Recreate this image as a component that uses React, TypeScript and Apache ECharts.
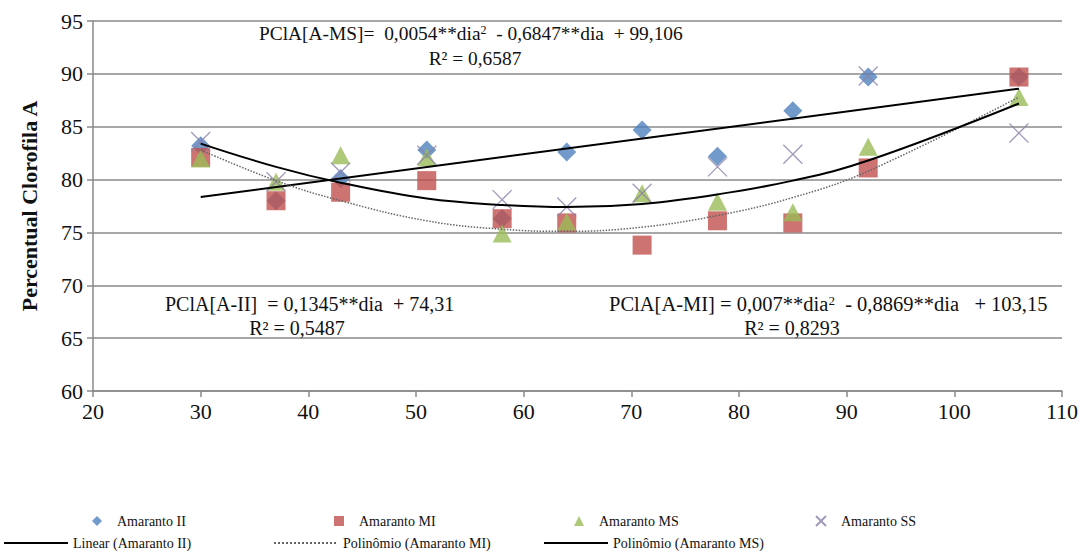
import React, { useEffect, useRef } from "react";
import * as echarts from "echarts";

// Days after sowing (x)
const days = [30, 37, 43, 51, 58, 64, 71, 78, 85, 92, 106];
const amarantoII = [83.2, 78.0, 80.1, 82.8, 76.3, 82.6, 84.7, 82.2, 86.5, 89.7, 89.7];
const amarantoMI = [82.1, 78.0, 78.8, 79.9, 76.3, 75.9, 73.8, 76.1, 75.9, 81.1, 89.7];
const amarantoMS = [82.0, 79.8, 82.3, 82.1, 74.9, 76.0, 78.7, 77.9, 76.9, 83.1, 87.8];
const amarantoSS = [83.6, 79.8, 80.7, 82.3, 78.1, 77.4, 78.7, 81.2, 82.4, 89.8, 84.4];
// Trend lines
const linearDays = [30, 106];
const linearII = [78.35, 88.6];
const polyMI = [82.8, 79.9, 78.0, 76.1, 75.3, 75.1, 75.5, 76.6, 78.3, 80.8, 87.8];
const polyMS = [83.4, 81.2, 79.7, 78.2, 77.6, 77.4, 77.7, 78.6, 79.9, 81.8, 87.2];
// Axis ticks
const xTicks = { min: 20, max: 110, step: 10 };
const yTicks = { min: 60, max: 95, step: 5 };

const pairs = (xs: number[], ys: number[]) => xs.map((x, i) => [x, ys[i]]);

const SERIF = "'Liberation Serif', 'Times New Roman', serif";
const GRID_COLOR = "#8a8a8a";

export default function App() {
  const ref = useRef<HTMLDivElement>(null);

  useEffect(() => {
    if (!ref.current) return;
    const chart = echarts.init(ref.current, undefined, { renderer: "svg" });

    const legendText = { fontFamily: SERIF, fontSize: 14, color: "#111" };
    const symLegend = (name: string, center: number, top: number) => ({
      data: [name],
      left: center - 5,
      top,
      orient: "horizontal",
      itemWidth: 10,
      itemHeight: 10,
      padding: 0,
      selectedMode: false,
      textStyle: { ...legendText, padding: [0, 0, 0, 10] },
    });
    const lineLegend = (name: string, left: number, top: number) => ({
      data: [name],
      left,
      top,
      orient: "horizontal",
      itemWidth: 64,
      itemHeight: 10,
      padding: 0,
      selectedMode: false,
      itemStyle: { opacity: 0 },
      textStyle: legendText,
    });

    const annText = (x: number, y: number, text: string, align: string, size: number) => ({
      type: "text",
      x,
      y,
      z: 100,
      style: {
        text,
        fill: "#111",
        fontFamily: SERIF,
        fontSize: size,
        align,
        verticalAlign: "middle",
        rich: {
          sup: { fontFamily: SERIF, fontSize: Math.round(size * 0.63), verticalAlign: "top", fill: "#111" },
        },
      },
    });

    chart.setOption({
      animation: false,
      backgroundColor: "#ffffff",
      textStyle: { fontFamily: SERIF },
      grid: { left: 93, right: 25, top: 21, bottom: 165, containLabel: false },
      xAxis: {
        type: "value",
        min: xTicks.min,
        max: xTicks.max,
        interval: xTicks.step,
        axisLine: { show: true, lineStyle: { color: GRID_COLOR, width: 1.5 } },
        axisTick: { show: true, inside: false, length: 6, lineStyle: { color: GRID_COLOR, width: 1.5 } },
        axisLabel: { fontFamily: SERIF, fontSize: 22, color: "#111", margin: 9 },
        splitLine: { show: false },
      },
      yAxis: {
        type: "value",
        min: yTicks.min,
        max: yTicks.max,
        interval: yTicks.step,
        name: "Percentual Clorofila A",
        nameLocation: "middle",
        nameGap: 53,
        nameTextStyle: { fontFamily: SERIF, fontSize: 22, fontWeight: "bold", color: "#111" },
        axisLine: { show: true, lineStyle: { color: GRID_COLOR, width: 1.5 } },
        axisTick: { show: true, inside: false, length: 6, lineStyle: { color: GRID_COLOR, width: 1.5 } },
        axisLabel: { fontFamily: SERIF, fontSize: 22, color: "#111", margin: 10 },
        splitLine: { show: true, lineStyle: { color: GRID_COLOR, width: 1.5 } },
      },
      legend: [
        symLegend("Amaranto II", 97, 514),
        symLegend("Amaranto MI", 339, 514),
        symLegend("Amaranto MS", 579, 514),
        symLegend("Amaranto SS", 820, 514),
        lineLegend("Linear (Amaranto II)", 3, 536),
        lineLegend("Polinômio (Amaranto MI)", 273, 536),
        lineLegend("Polinômio (Amaranto MS)", 543, 536),
      ],
      series: [
        {
          name: "Amaranto II",
          type: "scatter",
          symbol: "diamond",
          symbolSize: 19,
          itemStyle: { color: "#4F81BD" },
          data: pairs(days, amarantoII),
          z: 2,
        },
        {
          name: "Amaranto MI",
          type: "scatter",
          symbol: "rect",
          symbolSize: 19,
          itemStyle: { color: "#C0504D" },
          data: pairs(days, amarantoMI),
          z: 3,
        },
        {
          name: "Amaranto MS",
          type: "scatter",
          symbol: "triangle",
          symbolSize: [19, 18],
          itemStyle: { color: "#9BBB59" },
          data: pairs(days, amarantoMS),
          z: 4,
        },
        {
          name: "Amaranto SS",
          type: "scatter",
          symbol: "path://M0,0L10,10M10,0L0,10",
          symbolSize: 19,
          itemStyle: { color: "rgba(0,0,0,0)", borderColor: "#8b7fa8", borderWidth: 1.3 },
          data: pairs(days, amarantoSS),
          z: 5,
        },
        {
          name: "Linear (Amaranto II)",
          type: "line",
          symbol: "none",
          lineStyle: { color: "#000", width: 2 },
          data: pairs(linearDays, linearII),
          z: 10,
        },
        {
          name: "Polinômio (Amaranto MI)",
          type: "line",
          symbol: "none",
          smooth: 0.4,
          lineStyle: { color: "#666", width: 1.5, type: "dotted" },
          data: pairs(days, polyMI),
          z: 10,
        },
        {
          name: "Polinômio (Amaranto MS)",
          type: "line",
          symbol: "none",
          smooth: 0.4,
          lineStyle: { color: "#000", width: 2 },
          data: pairs(days, polyMS),
          z: 10,
        },
      ],
      graphic: [
        annText(259, 33, "PClA[A-MS]=  0,0054**dia{sup|2}  - 0,6847**dia  + 99,106", "left", 19.4),
        annText(475, 58, "R² = 0,6587", "center", 19.4),
        annText(165, 304, "PClA[A-II]  = 0,1345**dia  + 74,31", "left", 20),
        annText(297, 328, "R² = 0,5487", "center", 20),
        annText(609, 304, "PClA[A-MI] = 0,007**dia{sup|2}  - 0,8869**dia   + 103,15", "left", 20.5),
        annText(792, 328, "R² = 0,8293", "center", 20),
      ],
    });

    return () => chart.dispose();
  }, []);

  return (
    <div
      ref={ref}
      style={{ position: "absolute", left: 0, top: 0, width: 1087, height: 556, background: "#fff" }}
    />
  );
}
